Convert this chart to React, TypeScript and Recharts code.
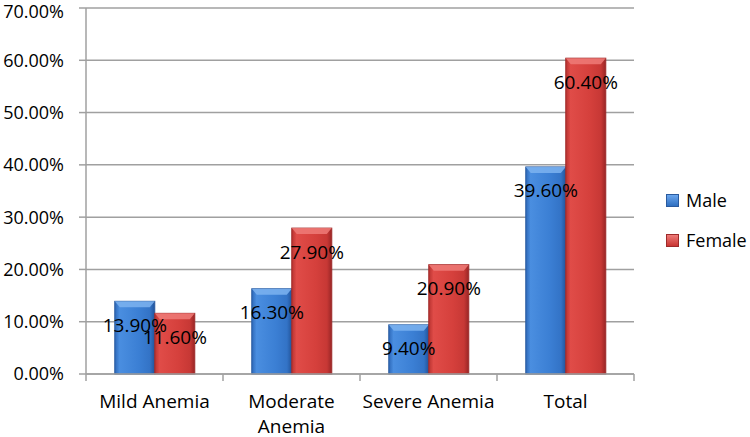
import React from 'react';
import { BarChart, Bar, XAxis, YAxis, CartesianGrid, Legend, LabelList } from 'recharts';

const categories = ['Mild Anemia', 'Moderate Anemia', 'Severe Anemia', 'Total'];
const maleValues = [13.9, 16.3, 9.4, 39.6];
const femaleValues = [11.6, 27.9, 20.9, 60.4];
const yTicks = [0, 10, 20, 30, 40, 50, 60, 70];

const data = categories.map((name, i) => ({ name, male: maleValues[i], female: femaleValues[i] }));

const FONT = '"Open Sans", sans-serif';
const GRID = '#a0a0a0';

const pct = (v: number) => `${v.toFixed(2)}%`;

// Excel-like bevelled bar
const makeShape = (grad: string, top: string, edge: string) => (props: any) => {
  const { x, y, width, height } = props;
  if (!height || height <= 0) return null;
  const b = Math.min(6, height / 2);
  return (
    <g>
      <rect x={x} y={y} width={width} height={height} fill={`url(#${grad})`} stroke={edge} strokeWidth={1} />
      <polygon
        points={`${x},${y} ${x + width},${y} ${x + width - 5},${y + b} ${x + 5},${y + b}`}
        fill={top}
        opacity={0.85}
      />
    </g>
  );
};

const maleShape = makeShape('gMale', '#7db3f0', '#2a5a9e');
const femaleShape = makeShape('gFemale', '#ee7b78', '#9e2a2a');

let ctx: CanvasRenderingContext2D | null = null;
const measure = (s: string) => {
  if (!ctx) ctx = document.createElement('canvas').getContext('2d');
  if (!ctx) return s.length * 10;
  ctx.font = `19px ${FONT}`;
  return ctx.measureText(s).width;
};

// wrap a label into lines that fit the category width
const wrap = (s: string, max: number) => {
  const lines: string[] = [];
  let cur = '';
  s.split(' ').forEach((w) => {
    const next = cur ? `${cur} ${w}` : w;
    if (cur && measure(next) > max) {
      lines.push(cur);
      cur = w;
    } else cur = next;
  });
  if (cur) lines.push(cur);
  return lines;
};

const CategoryTick = (props: any) => {
  const { x, y, payload, index, visibleTicksCount } = props;
  const half = payload.offset || 68.5;
  const axisY = y - 22;
  const lines = wrap(String(payload.value), half * 2 - 4);
  return (
    <g>
      <line x1={x - half} x2={x - half} y1={axisY} y2={axisY + 7} stroke={GRID} strokeWidth={1.5} />
      {index === visibleTicksCount - 1 && (
        <line x1={x + half} x2={x + half} y1={axisY} y2={axisY + 7} stroke={GRID} strokeWidth={1.5} />
      )}
      <text x={x} y={y + 12} textAnchor="middle" fontFamily={FONT} fontSize={19} fill="#000">
        {lines.map((l, i) => (
          <tspan key={i} x={x} dy={i ? 25 : 0}>
            {l}
          </tspan>
        ))}
      </text>
    </g>
  );
};

const LegendContent = () => (
  <div style={{ fontFamily: FONT, fontSize: 18, color: '#000' }}>
    {[
      { label: 'Male', grad: 'linear-gradient(#6aa6ee, #2f6fc0)', border: '#2a5a9e' },
      { label: 'Female', grad: 'linear-gradient(#ee7b78, #c93532)', border: '#9e2a2a' },
    ].map((it, i) => (
      <div key={it.label} style={{ display: 'flex', alignItems: 'center', height: 24, marginTop: i ? 16 : 0 }}>
        <span
          style={{
            display: 'inline-block',
            width: 11,
            height: 11,
            background: it.grad,
            border: `1px solid ${it.border}`,
            marginRight: 7,
          }}
        />
        <span>{it.label}</span>
      </div>
    ))}
  </div>
);

const App: React.FC = () => {
  return (
    <div style={{ position: 'fixed', left: 0, top: 0, width: 750, height: 437, background: '#fff' }}>
      <BarChart
        width={750}
        height={437}
        data={data}
        margin={{ top: 8, right: 32, bottom: 3, left: 0 }}
        barCategoryGap="21%"
        barGap={0}
      >
        <defs>
          <linearGradient id="gMale" x1="0" y1="0" x2="1" y2="0">
            <stop offset="0" stopColor="#2d68b8" />
            <stop offset="0.12" stopColor="#4a8ee0" />
            <stop offset="0.6" stopColor="#3b7fd4" />
            <stop offset="0.88" stopColor="#3373c6" />
            <stop offset="1" stopColor="#22549a" />
          </linearGradient>
          <linearGradient id="gFemale" x1="0" y1="0" x2="1" y2="0">
            <stop offset="0" stopColor="#b83230" />
            <stop offset="0.12" stopColor="#e04c48" />
            <stop offset="0.6" stopColor="#d5403c" />
            <stop offset="0.88" stopColor="#c73835" />
            <stop offset="1" stopColor="#992626" />
          </linearGradient>
        </defs>
        <CartesianGrid vertical={false} stroke={GRID} strokeWidth={1.5} />
        <XAxis
          dataKey="name"
          height={60}
          stroke={GRID}
          strokeWidth={1.5}
          tickLine={false}
          tickSize={0}
          tickMargin={22}
          interval={0}
          tick={<CategoryTick />}
        />
        <YAxis
          width={86}
          domain={[0, 70]}
          ticks={yTicks}
          tickFormatter={pct}
          stroke={GRID}
          strokeWidth={1.5}
          tickSize={7}
          tickMargin={15}
          tick={{ fontFamily: FONT, fontSize: 18, fill: '#000' }}
        />
        <Legend
          layout="vertical"
          align="right"
          verticalAlign="middle"
          width={84}
          content={<LegendContent />}
          wrapperStyle={{ left: 666, top: 188, right: 'auto' }}
        />
        <Bar dataKey="male" name="Male" fill="#3b7fd4" shape={maleShape} isAnimationActive={false}>
          <LabelList
            dataKey="male"
            position="insideTop"
            offset={17}
            formatter={(v: any) => pct(Number(v))}
            style={{ fontFamily: FONT, fontSize: 19, fill: '#000' }}
          />
        </Bar>
        <Bar dataKey="female" name="Female" fill="#d5403c" shape={femaleShape} isAnimationActive={false}>
          <LabelList
            dataKey="female"
            position="insideTop"
            offset={17}
            formatter={(v: any) => pct(Number(v))}
            style={{ fontFamily: FONT, fontSize: 19, fill: '#000' }}
          />
        </Bar>
      </BarChart>
    </div>
  );
};

export default App;
